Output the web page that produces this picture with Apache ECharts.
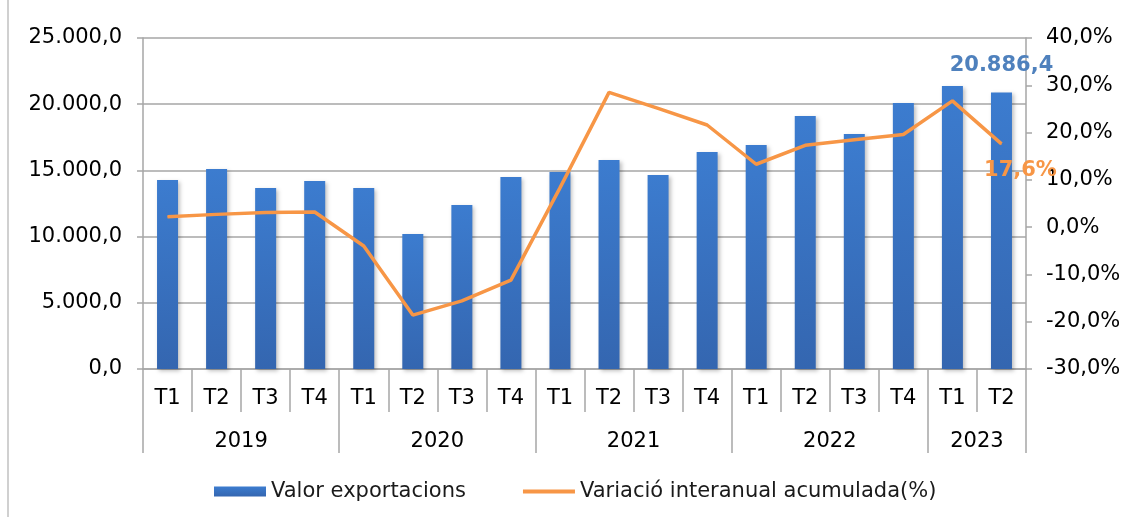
<!DOCTYPE html>
<html lang="ca">
<head>
    <meta charset="utf-8">
    <title>Valor exportacions</title>
    <script src="https://cdn.jsdelivr.net/npm/echarts@6/dist/echarts.min.js"></script>
    <style>
        html, body { margin: 0; padding: 0; background: #fff; }
        #main { width: 1129px; height: 517px; }
    </style>
</head>
<body>
<div id="main"></div>
<script>
    // dades
    var quarters = ['T1','T2','T3','T4','T1','T2','T3','T4','T1','T2','T3','T4','T1','T2','T3','T4','T1','T2'];
    var years = ['2019', '2020', '2021', '2022', '2023'];
    var quartersPerYear = [4, 4, 4, 4, 2];
    var exportValues = [14280, 15110, 13670, 14200, 13670, 10200, 12390, 14500, 14880, 15790,
                        14650, 16390, 16920, 19110, 17750, 20090, 21380, 20886.4];
    var variation = [2.2, 2.7, 3.1, 3.2, -4.0, -18.6, -15.6, -11.2, 8.3, 28.5,
                     25.1, 21.6, 13.3, 17.3, 18.5, 19.6, 26.7, 17.6];

    var fontFam = 'DejaVu Sans';
    var gridColor = '#a6a6a6';

    function fmtNum(v, dec) {
        var s = Math.abs(v).toFixed(dec).split('.');
        var ent = s[0].replace(/\B(?=(\d{3})+(?!\d))/g, '.');
        return (v < 0 ? '-' : '') + ent + (dec > 0 ? ',' + s[1] : '');
    }

    // posicions dels anys (limits i centres)
    var yearBounds = [0];
    var yearCenters = [];
    var acc = 0;
    for (var i = 0; i < quartersPerYear.length; i++) {
        yearCenters.push(acc + quartersPerYear[i] / 2);
        acc += quartersPerYear[i];
        yearBounds.push(acc);
    }

    var last = exportValues.length - 1;
    var barData = exportValues.map(function (v, i) {
        if (i !== last) return v;
        return {
            value: v,
            label: {
                show: true, position: 'top', distance: 5, offset: [0, -11],
                fontFamily: fontFam, fontSize: 21, fontWeight: 'bold', color: '#4f81bd',
                formatter: function (p) { return fmtNum(p.value, 1); }
            }
        };
    });
    var lineData = variation.map(function (v, i) {
        if (i !== last) return v;
        return {
            value: v,
            label: {
                show: true, position: 'bottom', distance: 5, offset: [19, 11],
                fontFamily: fontFam, fontSize: 21, fontWeight: 'bold', color: '#f79646',
                formatter: function (p) { return fmtNum(p.value, 1) + '%'; }
            }
        };
    });

    var myChart = echarts.init(document.getElementById('main'));
    var option = {
        animation: false,
        textStyle: { fontFamily: fontFam },
        grid: { left: 143, right: 103, top: 38, bottom: 148 },
        legend: {
            top: 476,
            left: 209,
            itemWidth: 52,
            itemHeight: 10,
            itemGap: 55,
            textStyle: { fontFamily: fontFam, fontSize: 21, color: '#1a1a1a' },
            data: [
                { name: 'Valor exportacions', icon: 'rect' },
                { name: 'Variació interanual acumulada(%)', itemStyle: { opacity: 0 },
                  lineStyle: { width: 4 } }
            ]
        },
        graphic: [{
            type: 'line',
            shape: { x1: 8, y1: 0, x2: 8, y2: 517 },
            style: { stroke: '#c0c0c0', lineWidth: 1.5 }
        }],
        xAxis: [{
            type: 'category',
            data: quarters,
            boundaryGap: true,
            axisLine: { onZero: false, lineStyle: { color: gridColor, width: 1.5 } },
            axisTick: { show: true, interval: 0, length: 43, lineStyle: { color: gridColor, width: 1.5 } },
            axisLabel: { interval: 0, margin: 19, fontSize: 21, color: '#000' }
        }, {
            type: 'value',
            min: 0,
            max: quarters.length,
            position: 'bottom',
            axisLine: { show: false, onZero: false },
            splitLine: { show: false },
            axisTick: { show: true, customValues: yearBounds, length: 84,
                lineStyle: { color: gridColor, width: 1.5 } },
            axisLabel: {
                customValues: yearCenters, margin: 62, fontSize: 21, color: '#000',
                formatter: function (v) { return years[yearCenters.indexOf(v)]; }
            }
        }],
        yAxis: [{
            type: 'value',
            min: 0, max: 25000, interval: 5000,
            axisLine: { show: true, lineStyle: { color: gridColor, width: 1.5 } },
            axisTick: { show: true, length: 6, lineStyle: { color: gridColor, width: 1.5 } },
            splitLine: { lineStyle: { color: gridColor, width: 1.5 } },
            axisLabel: { margin: 21, fontSize: 21, color: '#000',
                formatter: function (v) { return fmtNum(v, 1); } }
        }, {
            type: 'value',
            min: -30, max: 40, interval: 10,
            position: 'right',
            axisLine: { show: true, lineStyle: { color: gridColor, width: 1.5 } },
            axisTick: { show: true, length: 6, lineStyle: { color: gridColor, width: 1.5 } },
            splitLine: { show: false },
            axisLabel: { margin: 20, fontSize: 21, color: '#000',
                formatter: function (v) { return fmtNum(v, 1) + '%'; } }
        }],
        series: [{
            name: 'Valor exportacions',
            type: 'bar',
            xAxisIndex: 0,
            yAxisIndex: 0,
            barWidth: 21,
            itemStyle: {
                color: new echarts.graphic.LinearGradient(0, 0, 0, 1, [
                    { offset: 0, color: '#3c7ccf' },
                    { offset: 1, color: '#3466b0' }
                ]),
                shadowBlur: 4,
                shadowColor: 'rgba(0,0,0,0.25)',
                shadowOffsetX: 2,
                shadowOffsetY: 2
            },
            data: barData
        }, {
            name: 'Variació interanual acumulada(%)',
            type: 'line',
            xAxisIndex: 0,
            yAxisIndex: 1,
            symbol: 'circle',
            symbolSize: 1,
            z: 3,
            lineStyle: { color: '#f79646', width: 3.5 },
            itemStyle: { color: '#f79646' },
            data: lineData
        }]
    };
    myChart.setOption(option);
</script>
</body>
</html>
